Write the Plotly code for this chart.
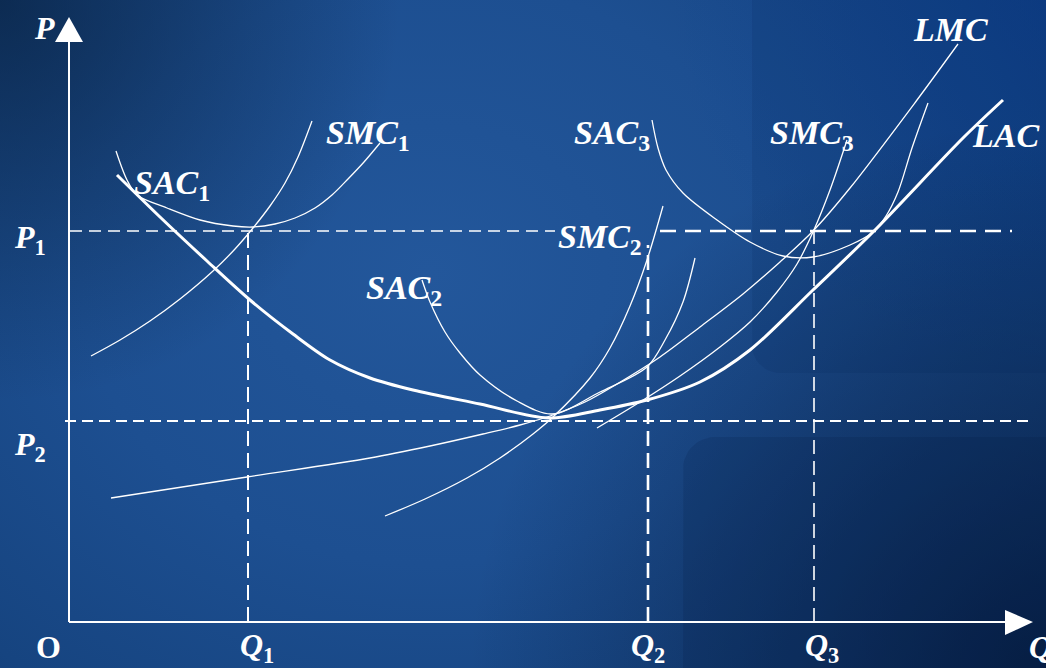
import numpy as np
import plotly.graph_objects as go

# ---------------- data (Q = quantity, P = price, arbitrary units) ----------------
P1, P2 = 391, 201
Q1, Q2, Q3 = 178, 578, 744

LAC_Q = [47, 90, 137, 180, 223, 260, 300, 343, 410, 478, 530, 577, 630, 680, 743, 803, 893, 933]
LAC_P = [447, 405, 361, 322, 288, 262, 244, 232, 218, 204, 212, 222, 240, 272, 332, 390, 484, 522]

LMC_Q = [41, 177, 300, 360, 413, 450, 480, 515, 547, 590, 630, 673, 710, 743, 780, 847, 888]
LMC_P = [124, 145, 164, 176, 188, 197, 206, 220, 238, 265, 295, 328, 360, 391, 434, 522, 578]

SAC1_Q = [46, 57, 67, 97, 130, 163, 183, 205, 225, 245, 262, 278, 294, 310]
SAC1_P = [471, 442, 427, 414, 402, 396, 395, 398, 404, 414, 427, 443, 460, 479]

SMC1_Q = [21, 50, 80, 110, 143, 165, 183, 200, 215, 228, 242]
SMC1_P = [266, 282, 301, 323, 351, 373, 394, 416, 439, 465, 501]

SAC2_Q = [352, 360, 375, 390, 410, 447, 482, 530, 577, 595, 613, 625]
SAC2_P = [342, 320, 290, 269, 247, 221, 208, 230, 255, 282, 320, 364]

SMC2_Q = [315, 355, 397, 430, 463, 483, 520, 540, 560, 577, 593]
SMC2_P = [106, 123, 144, 164, 188, 205, 244, 274, 316, 362, 416]

SAC3_Q = [582, 588, 596, 613, 647, 680, 713, 743, 780, 803, 816, 828, 842, 858]
SAC3_P = [502, 474, 452, 429, 402, 380, 366, 365, 377, 390, 406, 430, 474, 519]

SMC3_Q = [527, 570, 610, 650, 680, 707, 727, 743, 760, 777]
SMC3_P = [194, 220, 246, 275, 300, 330, 358, 390, 432, 482]

X_RANGE = [-70, 976]
Y_RANGE = [-46, 622]

FONT = "Liberation Serif"
WHITE = "#ffffff"

fig = go.Figure()

# ---------------- background ----------------
def rect(q0, p0, q1, p1):
    return [q0, q1, q1, q0, q0], [p0, p0, p1, p1, p0]

def add_grad(q0, p0, q1, p1, cs, kind="radial"):
    xs, ys = rect(q0, p0, q1, p1)
    fig.add_trace(go.Scatter(x=xs, y=ys, mode="lines", fill="toself",
                             line=dict(width=0, color="rgba(0,0,0,0)"),
                             fillgradient=dict(type=kind, colorscale=cs),
                             hoverinfo="skip", showlegend=False))

# base radial glow
add_grad(-420, 1000, 1140, -300,
         [[0, "#23579b"], [0.45, "#1d4f91"], [0.8, "#164480"], [1, "#123b72"]])
# top-left darkening
add_grad(-470, 1020, 330, 220,
         [[0, "rgba(6,28,55,0.65)"], [1, "rgba(6,28,55,0)"]])
# top-right saturated blue
add_grad(600, 1000, 1400, 250,
         [[0, "rgba(8,60,150,0.5)"], [1, "rgba(8,60,150,0)"]])
# bottom-right darkening
add_grad(400, 500, 1550, -600,
         [[0, "rgba(4,22,55,0.75)"], [1, "rgba(4,22,55,0)"]])

def rounded_panel(q0, p_top, q1, p_bot, r, corner):
    t = np.linspace(0, np.pi / 2, 12)
    if corner == "bl":
        cq, cp = q0 + r, p_bot + r
        arc_q = cq - r * np.cos(t)
        arc_p = cp - r * np.sin(t)
        xs = [q0] + list(arc_q) + [q1, q1, q0]
        ys = [p_top] + list(arc_p) + [p_bot, p_top, p_top]
    else:
        cq, cp = q0 + r, p_top - r
        arc_q = cq - r * np.cos(t)
        arc_p = cp + r * np.sin(t)
        xs = [q0] + list(arc_q) + [q1, q1, q0]
        ys = [p_bot] + list(arc_p) + [p_top, p_bot, p_bot]
    return xs, ys

for (xs, ys), col in [
    (rounded_panel(682, 700, 1050, 249, 28, "bl"), "rgba(4,30,85,0.12)"),
    (rounded_panel(613, 185, 1050, -100, 32, "tl"), "rgba(2,18,55,0.14)"),
]:
    fig.add_trace(go.Scatter(x=xs, y=ys, mode="lines", fill="toself",
                             fillcolor=col, line=dict(width=0, color="rgba(0,0,0,0)"),
                             hoverinfo="skip", showlegend=False))

# ---------------- curves ----------------
def curve(q, p, w):
    fig.add_trace(go.Scatter(x=q, y=p, mode="lines",
                             line=dict(color=WHITE, width=w, shape="spline", smoothing=0.9),
                             hoverinfo="skip", showlegend=False))

for q, p in [(SAC1_Q, SAC1_P), (SMC1_Q, SMC1_P), (SAC2_Q, SAC2_P), (SMC2_Q, SMC2_P),
             (SAC3_Q, SAC3_P), (SMC3_Q, SMC3_P), (LMC_Q, LMC_P)]:
    curve(q, p, 1.3)
curve(LAC_Q, LAC_P, 3)

# ---------------- axes & guide lines ----------------
shapes = []
def seg(x0, y0, x1, y1, w, dash="solid"):
    shapes.append(dict(type="line", xref="x", yref="y", x0=x0, y0=y0, x1=x1, y1=y1,
                       line=dict(color=WHITE, width=w, dash=dash), layer="above"))

seg(-1, 0, -1, 580, 2)          # P axis
seg(-1, 0, 936, 0, 2)           # Q axis
shapes.append(dict(type="path", xref="x", yref="y",
                   path="M -15,580 L 13,580 L -1,605 Z", fillcolor=WHITE,
                   line=dict(width=0), layer="above"))
shapes.append(dict(type="path", xref="x", yref="y",
                   path="M 935,12 L 935,-13 L 963,0 Z", fillcolor=WHITE,
                   line=dict(width=0), layer="above"))

seg(0, P1, 485, P1, 1.6, "12px,7px")
seg(590, P1, 942, P1, 2.6, "16px,9px")
seg(-5, P2, 958, P2, 1.8, "11px,6px")
seg(Q1, 0, Q1, P1, 2, "15px,7px")
seg(Q2, 0, Q2, 377, 2.6, "15px,7px")
seg(Q3, 0, Q3, P1, 1.6, "14px,7px")

# ---------------- labels ----------------
ann = []
def lab(text, q, p, size=34):
    ann.append(dict(text=text, x=q, y=p, xref="x", yref="y", showarrow=False,
                    xanchor="center", yanchor="middle",
                    font=dict(family=FONT, size=size, color=WHITE, weight="bold")))

lab("<i>P</i>", -26, 594, 32)
lab("<i>P</i><sub>1</sub>", -40, 383, 32)
lab("<i>P</i><sub>2</sub>", -40, 176, 32)
lab("O", -22, -25, 32)
lab("<i>Q</i><sub>1</sub>", Q1 + 9, -25, 32)
lab("<i>Q</i><sub>2</sub>", Q2, -25, 32)
lab("<i>Q</i><sub>3</sub>", Q3 + 8, -25, 32)
lab("<i>Q</i>", 970, -25, 32)
lab("<i>SAC</i><sub>1</sub>", 102, 437)
lab("<i>SMC</i><sub>1</sub>", 298, 487)
lab("<i>SAC</i><sub>3</sub>", 542, 487)
lab("<i>SMC</i><sub>3</sub>", 742, 487)
lab("<i>LMC</i>", 880, 593)
lab("<i>LAC</i>", 935, 487)
lab("<i>SMC</i><sub>2</sub>", 530, 383)
lab("<i>SAC</i><sub>2</sub>", 334, 332)

fig.update_layout(
    width=1046, height=668,
    margin=dict(l=0, r=0, t=0, b=0),
    paper_bgcolor="#174683", plot_bgcolor="#174683",
    xaxis=dict(range=X_RANGE, visible=False, fixedrange=True),
    yaxis=dict(range=Y_RANGE, visible=False, fixedrange=True),
    shapes=shapes, annotations=ann, showlegend=False,
)

fig.write_html("out.html",
               config={"displayModeBar": False, "staticPlot": True},
               post_script="document.body.style.margin='0';document.body.style.overflow='hidden';")
